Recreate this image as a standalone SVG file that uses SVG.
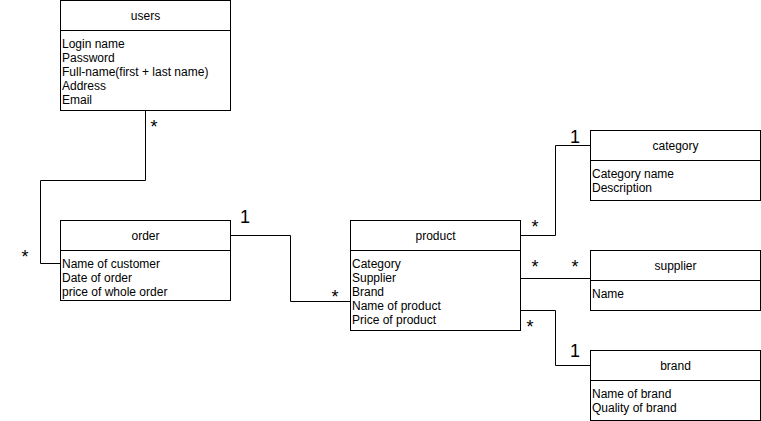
<svg xmlns="http://www.w3.org/2000/svg" width="761" height="421" viewBox="0 0 761 421">
<style>
.box{fill:#fff;stroke:#000;stroke-width:1}
.t{font-family:"Liberation Sans",Arial,sans-serif;font-size:12px;fill:#000}
.c{text-anchor:middle}
.edge{fill:none;stroke:#000;stroke-width:1}
.lbl{font-family:"Liberation Sans",Arial,sans-serif;font-size:18px;fill:#000;text-anchor:middle}
</style>
<rect width="761" height="421" fill="#fff"/>
<g id="connectors">
<path class="edge" d="M145.5 110.5V180.5H40.5V263.5H60.5"/>
<path class="edge" d="M230.5 235.5H290.5V301.5H350.5"/>
<path class="edge" d="M520.5 235.5H555.5V145.5H590.5"/>
<path class="edge" d="M520.5 278.5H590.5"/>
<path class="edge" d="M520.5 310.5H555.5V365.5H590.5"/>
<text class="lbl" x="154" y="133">*</text>
<text class="lbl" x="25" y="263">*</text>
<text class="lbl" x="245" y="223">1</text>
<text class="lbl" x="335" y="303">*</text>
<text class="lbl" x="535" y="233">*</text>
<text class="lbl" x="575" y="143">1</text>
<text class="lbl" x="535" y="273">*</text>
<text class="lbl" x="575" y="273">*</text>
<text class="lbl" x="530" y="333">*</text>
<text class="lbl" x="575" y="357">1</text>
</g>
<g id="users">
<rect class="box" x="60.5" y="0.5" width="170" height="110"/>
<path class="edge" d="M60.5 30.5H230.5"/>
<text class="t c" x="145.5" y="20">users</text>
<text class="t" x="62" y="48">Login name</text>
<text class="t" x="62" y="62">Password</text>
<text class="t" x="62" y="76">Full-name(first + last name)</text>
<text class="t" x="62" y="90">Address</text>
<text class="t" x="62" y="104">Email</text>
</g>
<g id="order">
<rect class="box" x="60.5" y="220.5" width="170" height="80"/>
<path class="edge" d="M60.5 250.5H230.5"/>
<text class="t c" x="145.5" y="240">order</text>
<text class="t" x="62" y="268">Name of customer</text>
<text class="t" x="62" y="282">Date of order</text>
<text class="t" x="62" y="296">price of whole order</text>
</g>
<g id="product">
<rect class="box" x="350.5" y="220.5" width="170" height="110"/>
<path class="edge" d="M350.5 250.5H520.5"/>
<text class="t c" x="435.5" y="240">product</text>
<text class="t" x="352" y="268">Category</text>
<text class="t" x="352" y="282">Supplier</text>
<text class="t" x="352" y="296">Brand</text>
<text class="t" x="352" y="310">Name of product</text>
<text class="t" x="352" y="324">Price of product</text>
</g>
<g id="category">
<rect class="box" x="590.5" y="130.5" width="170" height="70"/>
<path class="edge" d="M590.5 160.5H760.5"/>
<text class="t c" x="675.5" y="150">category</text>
<text class="t" x="592" y="178">Category name</text>
<text class="t" x="592" y="192">Description</text>
</g>
<g id="supplier">
<rect class="box" x="590.5" y="250.5" width="170" height="60"/>
<path class="edge" d="M590.5 280.5H760.5"/>
<text class="t c" x="675.5" y="270">supplier</text>
<text class="t" x="592" y="298">Name</text>
</g>
<g id="brand">
<rect class="box" x="590.5" y="350.5" width="170" height="70"/>
<path class="edge" d="M590.5 380.5H760.5"/>
<text class="t c" x="675.5" y="370">brand</text>
<text class="t" x="592" y="398">Name of brand</text>
<text class="t" x="592" y="412">Quality of brand</text>
</g>
</svg>
